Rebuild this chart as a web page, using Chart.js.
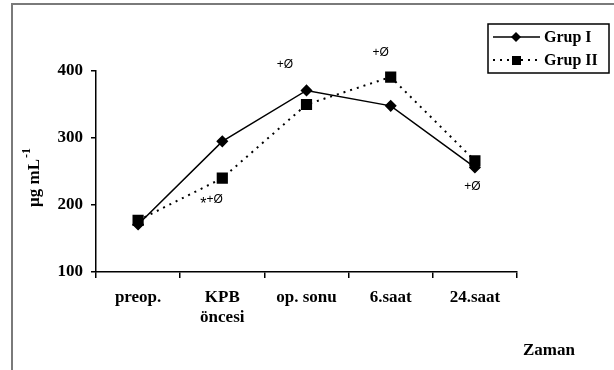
<!DOCTYPE html>
<html>
<head>
<meta charset="utf-8">
<script src="https://cdn.jsdelivr.net/npm/chart.js@4"></script>
<style>
  html, body { margin: 0; padding: 0; background: #fff; }
  #wrap { position: relative; width: 614px; height: 370px; }
  #frame {
    position: absolute; left: 11px; top: 3px; right: 0; bottom: 0;
    border-left: 2px solid #7a7a7a; border-top: 2px solid #7a7a7a;
    pointer-events: none;
  }
  canvas { position: absolute; left: 0; top: 0; }
</style>
</head>
<body>
<div id="wrap">
  <canvas id="chart" width="614" height="370"></canvas>
  <div id="frame"></div>
</div>
<script>
(function () {
  'use strict';

  var categories = ['preop.', ['KPB', 'öncesi'], 'op. sonu', '6.saat', '24.saat'];
  var grupI = [171, 295, 371, 348, 256];
  var grupII = [177, 240, 350, 391, 266];
  var yTicks = [100, 200, 300, 400];

  // significance marks: category position and value where they sit
  var markText = ['*+Ø', '+Ø', '+Ø', '+Ø'];
  var markPos = [0.86, 1.745, 2.88, 3.97];
  var markVal = [206, 410, 427, 227];

  var serif = '"Liberation Serif", "Times New Roman", serif';
  var sans = '"Liberation Sans", Arial, sans-serif';

  var extras = {
    id: 'extras',
    afterDraw: function (chart) {
      var ctx = chart.ctx;
      var x = chart.scales.x, y = chart.scales.y;
      var step = x.getPixelForValue(1) - x.getPixelForValue(0);
      ctx.save();
      ctx.fillStyle = '#000';
      ctx.textBaseline = 'middle';

      // marks
      for (var i = 0; i < markText.length; i++) {
        var px = x.getPixelForValue(0) + markPos[i] * step;
        var py = y.getPixelForValue(markVal[i]);
        var t = markText[i];
        if (t.charAt(0) === '*') {
          ctx.font = '16px ' + sans;
          ctx.textAlign = 'right';
          ctx.fillText('*', px - 4, py + 4);
          ctx.font = '12px ' + sans;
          ctx.textAlign = 'left';
          ctx.fillText(t.slice(1), px - 4, py - 1);
        } else {
          ctx.font = '12px ' + sans;
          ctx.textAlign = 'center';
          ctx.fillText(t, px, py);
        }
      }

      // y title
      ctx.save();
      ctx.translate(35, 178);
      ctx.rotate(-Math.PI / 2);
      var main = 'µg mL';
      ctx.font = 'bold 12px ' + serif;
      var supW = ctx.measureText('-1').width;
      ctx.font = 'bold 17px ' + serif;
      var mw = ctx.measureText(main).width;
      var start = -(mw + supW) / 2;
      ctx.textAlign = 'left';
      ctx.fillText(main, start, 0);
      ctx.font = 'bold 12px ' + serif;
      ctx.fillText('-1', start + mw + 1, -8);
      ctx.restore();

      // x title
      ctx.font = 'bold 17px ' + serif;
      ctx.textAlign = 'center';
      ctx.fillText('Zaman', 549, 351);

      // legend
      var lx = 488, ly = 24, lw = 121, lh = 49;
      ctx.lineWidth = 1.5;
      ctx.strokeStyle = '#000';
      ctx.strokeRect(lx, ly, lw, lh);
      var rows = chart.data.datasets;
      for (var r = 0; r < rows.length; r++) {
        var ry = ly + 13 + r * 23;
        ctx.beginPath();
        ctx.setLineDash(rows[r].borderDash || []);
        ctx.lineWidth = rows[r].borderWidth;
        ctx.moveTo(lx + 5, ry);
        ctx.lineTo(lx + 52, ry);
        ctx.stroke();
        ctx.setLineDash([]);
        ctx.beginPath();
        if (rows[r].pointStyle === 'rect') {
          ctx.rect(lx + 24, ry - 4, 9, 9);
        } else {
          ctx.moveTo(lx + 28, ry - 5);
          ctx.lineTo(lx + 33, ry);
          ctx.lineTo(lx + 28, ry + 5);
          ctx.lineTo(lx + 23, ry);
          ctx.closePath();
        }
        ctx.fill();
        ctx.font = 'bold 16px ' + serif;
        ctx.textAlign = 'left';
        ctx.fillText(rows[r].label, lx + 56, ry + 1);
      }
      ctx.restore();
    }
  };

  new Chart(document.getElementById('chart'), {
    type: 'line',
    data: {
      labels: categories,
      datasets: [
        {
          label: 'Grup I',
          data: grupI,
          borderColor: '#000',
          backgroundColor: '#000',
          borderWidth: 1.5,
          pointStyle: 'rectRot',
          pointRadius: 5,
          tension: 0,
        },
        {
          label: 'Grup II',
          data: grupII,
          borderColor: '#000',
          backgroundColor: '#000',
          borderWidth: 2,
          borderDash: [2, 5],
          pointStyle: 'rect',
          pointRadius: 6.5,
          tension: 0,
        },
      ],
    },
    options: {
      responsive: false,
      animation: false,
      layout: { padding: { left: 0, right: 97, top: 71, bottom: 0 } },
      plugins: { legend: { display: false }, tooltip: { enabled: false } },
      scales: {
        x: {
          offset: true,
          afterFit: function (s) { s.height = 98; },
          grid: { offset: true, drawOnChartArea: false, tickLength: 6, color: '#000', lineWidth: 1.5 },
          border: { color: '#000', width: 1.5 },
          ticks: {
            color: '#000',
            padding: 9,
            maxRotation: 0,
            font: { family: serif, size: 17, weight: 'bold', lineHeight: 1.2 },
          },
        },
        y: {
          min: 100,
          max: 400,
          afterFit: function (s) { s.width = 96; },
          afterBuildTicks: function (s) {
            s.ticks = yTicks.map(function (v) { return { value: v }; });
          },
          grid: { drawOnChartArea: false, tickLength: 5, color: '#000', lineWidth: 1.5 },
          border: { color: '#000', width: 1.5 },
          ticks: {
            color: '#000',
            padding: 8,
            font: { family: serif, size: 17, weight: 'bold' },
          },
        },
      },
    },
    plugins: [extras],
  });
})();
</script>
</body>
</html>
